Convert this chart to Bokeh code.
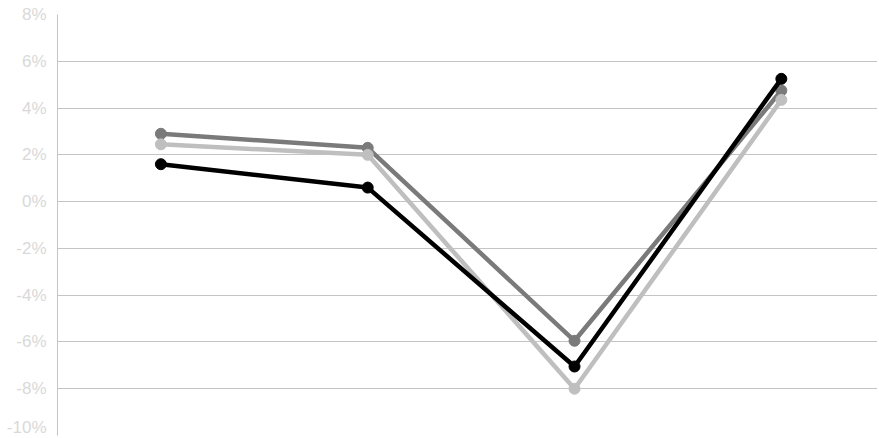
from bokeh.plotting import figure
from bokeh.models import Range1d, FixedTicker, PrintfTickFormatter
from bokeh.embed import file_html
from bokeh.resources import INLINE

categories = ["1", "2", "3", "4"]
x_pos = [0, 1, 2, 3]
series_dark = [2.9, 2.3, -5.95, 4.75]
series_light = [2.45, 2.0, -8.0, 4.35]
series_black = [1.6, 0.6, -7.05, 5.25]
y_ticks = [-10, -8, -6, -4, -2, 0, 2, 4, 6, 8]

p = figure(width=877, height=436, output_backend="svg", toolbar_location=None,
           x_range=Range1d(-0.5, 3.465), y_range=Range1d(-10, 8),
           min_border_left=57, min_border_right=0, min_border_top=14, min_border_bottom=1)
p.outline_line_color = None
p.xaxis.visible = False
p.xgrid.visible = False
p.ygrid.grid_line_color = "#c4c4c4"
p.ygrid.grid_line_width = 1
p.yaxis.ticker = FixedTicker(ticks=y_ticks)
p.yaxis.formatter = PrintfTickFormatter(format="%d%%")
p.yaxis.axis_line_color = "#c4c4c4"
p.yaxis.major_tick_line_color = None
p.yaxis.minor_tick_line_color = None
p.yaxis.major_tick_out = 0
p.yaxis.major_tick_in = 0
p.yaxis.major_label_standoff = 11
p.yaxis.major_label_text_color = "#d9d9d9"
p.yaxis.major_label_text_font = "Liberation Sans"
p.yaxis.major_label_text_font_size = "17px"
p.yaxis.major_label_text_font_style = "normal"

for ys, c in [(series_dark, "#7a7a7a"), (series_light, "#bfbfbf"), (series_black, "#000000")]:
    p.line(x_pos, ys, line_color=c, line_width=4.5)
    p.scatter(x_pos, ys, size=11, fill_color=c, line_color=c)

open("out.html", "w").write(file_html(p, INLINE))
